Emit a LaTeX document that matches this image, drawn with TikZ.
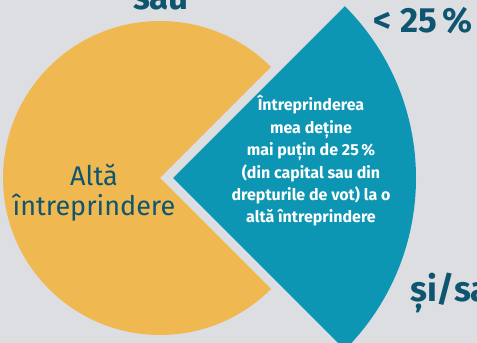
\documentclass[tikz,border=0pt]{standalone}
\usepackage{fontspec}
\setmainfont{Fira Sans}
\definecolor{fundal}{HTML}{DDDEE2}
\definecolor{galben}{HTML}{EFB851}
\definecolor{turcoaz}{HTML}{0D96B3}
\definecolor{bleumarin}{HTML}{0E5570}
\begin{document}
\begin{tikzpicture}[x=1pt,y=1pt,
    eticheta/.style={text=bleumarin,font=\fontsize{35}{40}\selectfont\bfseries,inner sep=0pt},
    interior/.style={align=center,inner sep=0pt}]
                \useasboundingbox (0,0) rectangle (477,343);
                \fill[fundal](0,0) rectangle (477,343);
                \fill[galben](160,165)--++(45:157) arc[start angle=45,end angle=315,radius=157]--cycle;
                \fill[turcoaz](173,165)--++(-45:243) arc[start angle=-45,end angle=45,radius=243]--cycle;
                \node[interior,text=bleumarin,font=\fontsize{27}{30}\selectfont] (alta) at (94,150){Altă\\întreprindere};
                \node[interior,text=white,font=\fontsize{16}{22.4}\selectfont\bfseries] (detine) at (311,182){Întreprinderea\\mea deține\\mai puțin de 25\,\%\\(din capital sau din\\drepturile de vot) la o\\altă întreprindere};
                \node[eticheta,anchor=base] (sau) at (161,333){sau};
                \node[eticheta,anchor=base east] (prag) at (473,310){< 25\,\%};
                \node[eticheta,anchor=base west] (sisau) at (410,41){și/sau};
            \end{tikzpicture}
\end{document}
